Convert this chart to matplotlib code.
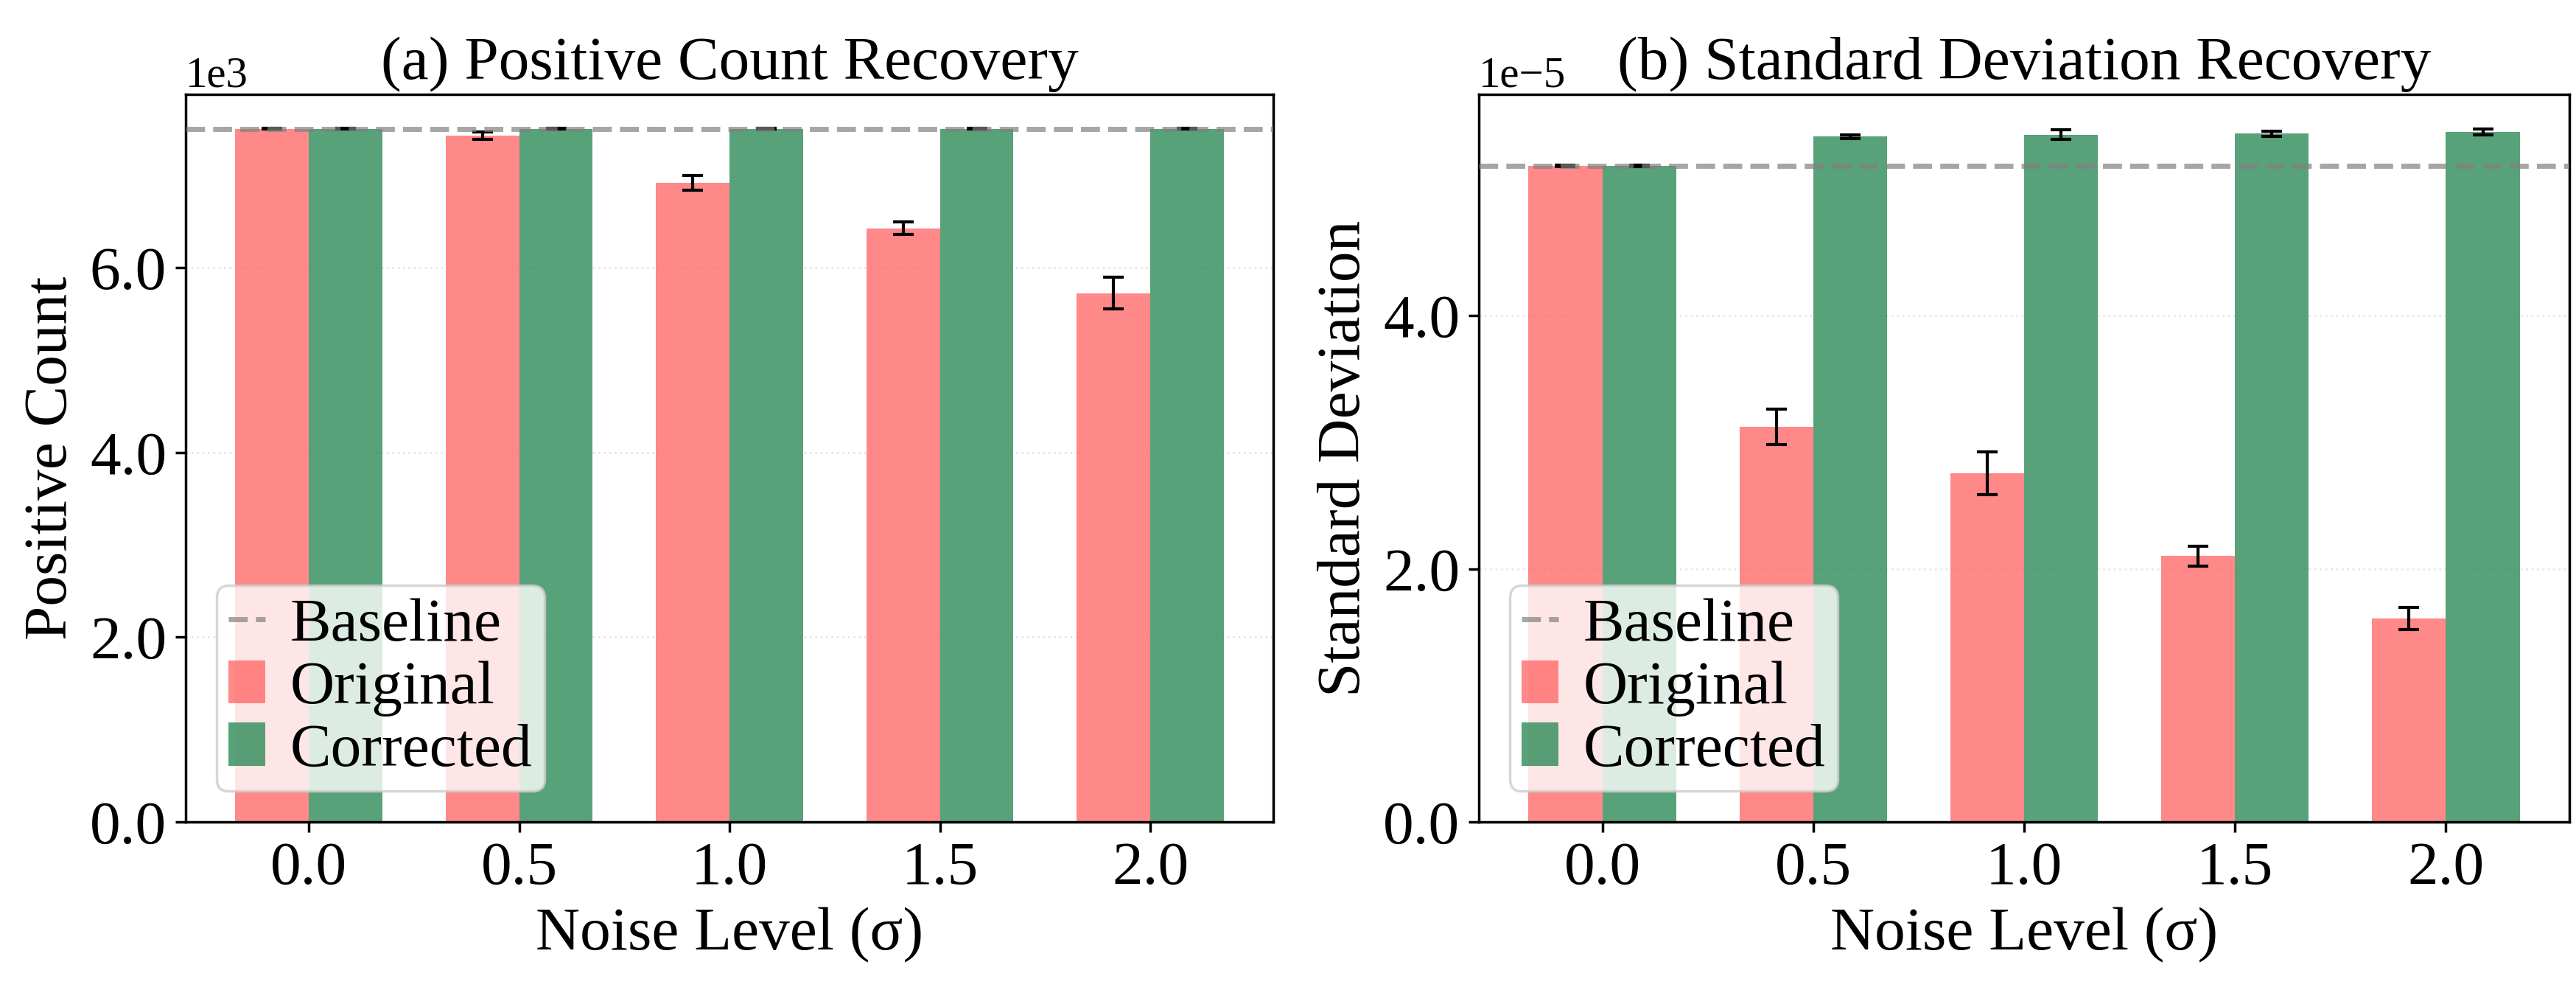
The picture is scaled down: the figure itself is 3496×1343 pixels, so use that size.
import matplotlib
matplotlib.use("Agg")
import matplotlib.pyplot as plt
import numpy as np
from matplotlib.ticker import ScalarFormatter

plt.rcParams["font.family"] = ["Liberation Serif", "DejaVu Serif"]
plt.rcParams["mathtext.fontset"] = "stix"

# 噪声水平
noise_levels = ["0.0", "0.5", "1.0", "1.5", "2.0"]

# (a) 正样本数量
count_baseline = 7508
count_original = [7508, 7430, 6925, 6430, 5727]
count_original_err = [4, 40, 80, 65, 170]
count_corrected = [7505, 7508, 7508, 7508, 7508]
count_corrected_err = [4, 4, 4, 3, 4]

# (b) 标准差
std_baseline = 5.184e-5
std_original = [5.184e-5, 3.12e-5, 2.755e-5, 2.10e-5, 1.608e-5]
std_original_err = [0.004e-5, 0.14e-5, 0.17e-5, 0.08e-5, 0.086e-5]
std_corrected = [5.184e-5, 5.415e-5, 5.432e-5, 5.44e-5, 5.455e-5]
std_corrected_err = [0.004e-5, 0.012e-5, 0.04e-5, 0.02e-5, 0.024e-5]


class OneDecimalFormatter(ScalarFormatter):
    def _set_format(self):
        self.format = "%.1f"


def draw_panel(ax, original, original_err, corrected, corrected_err, baseline,
               title, ylabel, ytop):
    x = np.arange(len(noise_levels))
    width = 0.35
    err_style = dict(elinewidth=1.2, capthick=1.2, ecolor="black")
    ax.axhline(baseline, color="gray", linestyle="--", linewidth=2.0,
               alpha=0.7, label="Baseline", zorder=3)
    ax.bar(x - width / 2, original, width, yerr=original_err, capsize=4,
           color="#FF6B6B", alpha=0.8, label="Original", error_kw=err_style)
    ax.bar(x + width / 2, corrected, width, yerr=corrected_err, capsize=4,
           color="seagreen", alpha=0.8, label="Corrected", error_kw=err_style)

    ax.set_xticks(x)
    ax.set_xticklabels(noise_levels)
    ax.set_xlabel("Noise Level (σ)", fontsize=24)
    ax.set_ylabel(ylabel, fontsize=24)
    ax.set_title(title, fontsize=24)
    ax.set_ylim(0, ytop)

    fmt = OneDecimalFormatter(useMathText=False)
    fmt.set_powerlimits((0, 0))
    ax.yaxis.set_major_formatter(fmt)
    ax.yaxis.get_offset_text().set_fontsize(17)

    ax.tick_params(axis="both", labelsize=24, width=1.0, length=4)
    for spine in ax.spines.values():
        spine.set_linewidth(1.0)
    ax.grid(axis="y", linestyle=":", alpha=0.3)
    ax.set_axisbelow(True)
    ax.legend(loc="lower left", fontsize=24, framealpha=0.8,
              handlelength=0.6, handletextpad=0.4, borderpad=0.2,
              labelspacing=0.1)


fig = plt.figure(figsize=(13.984, 5.372), dpi=250)
ax1 = fig.add_axes([0.0721, 0.1698, 0.4222, 0.7349])
ax2 = fig.add_axes([0.5741, 0.1698, 0.4233, 0.7349])

draw_panel(ax1, count_original, count_original_err, count_corrected,
           count_corrected_err, count_baseline,
           "(a) Positive Count Recovery", "Positive Count", 7880)
draw_panel(ax2, std_original, std_original_err, std_corrected,
           std_corrected_err, std_baseline,
           "(b) Standard Deviation Recovery", "Standard Deviation", 5.75e-5)

fig.savefig("out.png", dpi=250)
